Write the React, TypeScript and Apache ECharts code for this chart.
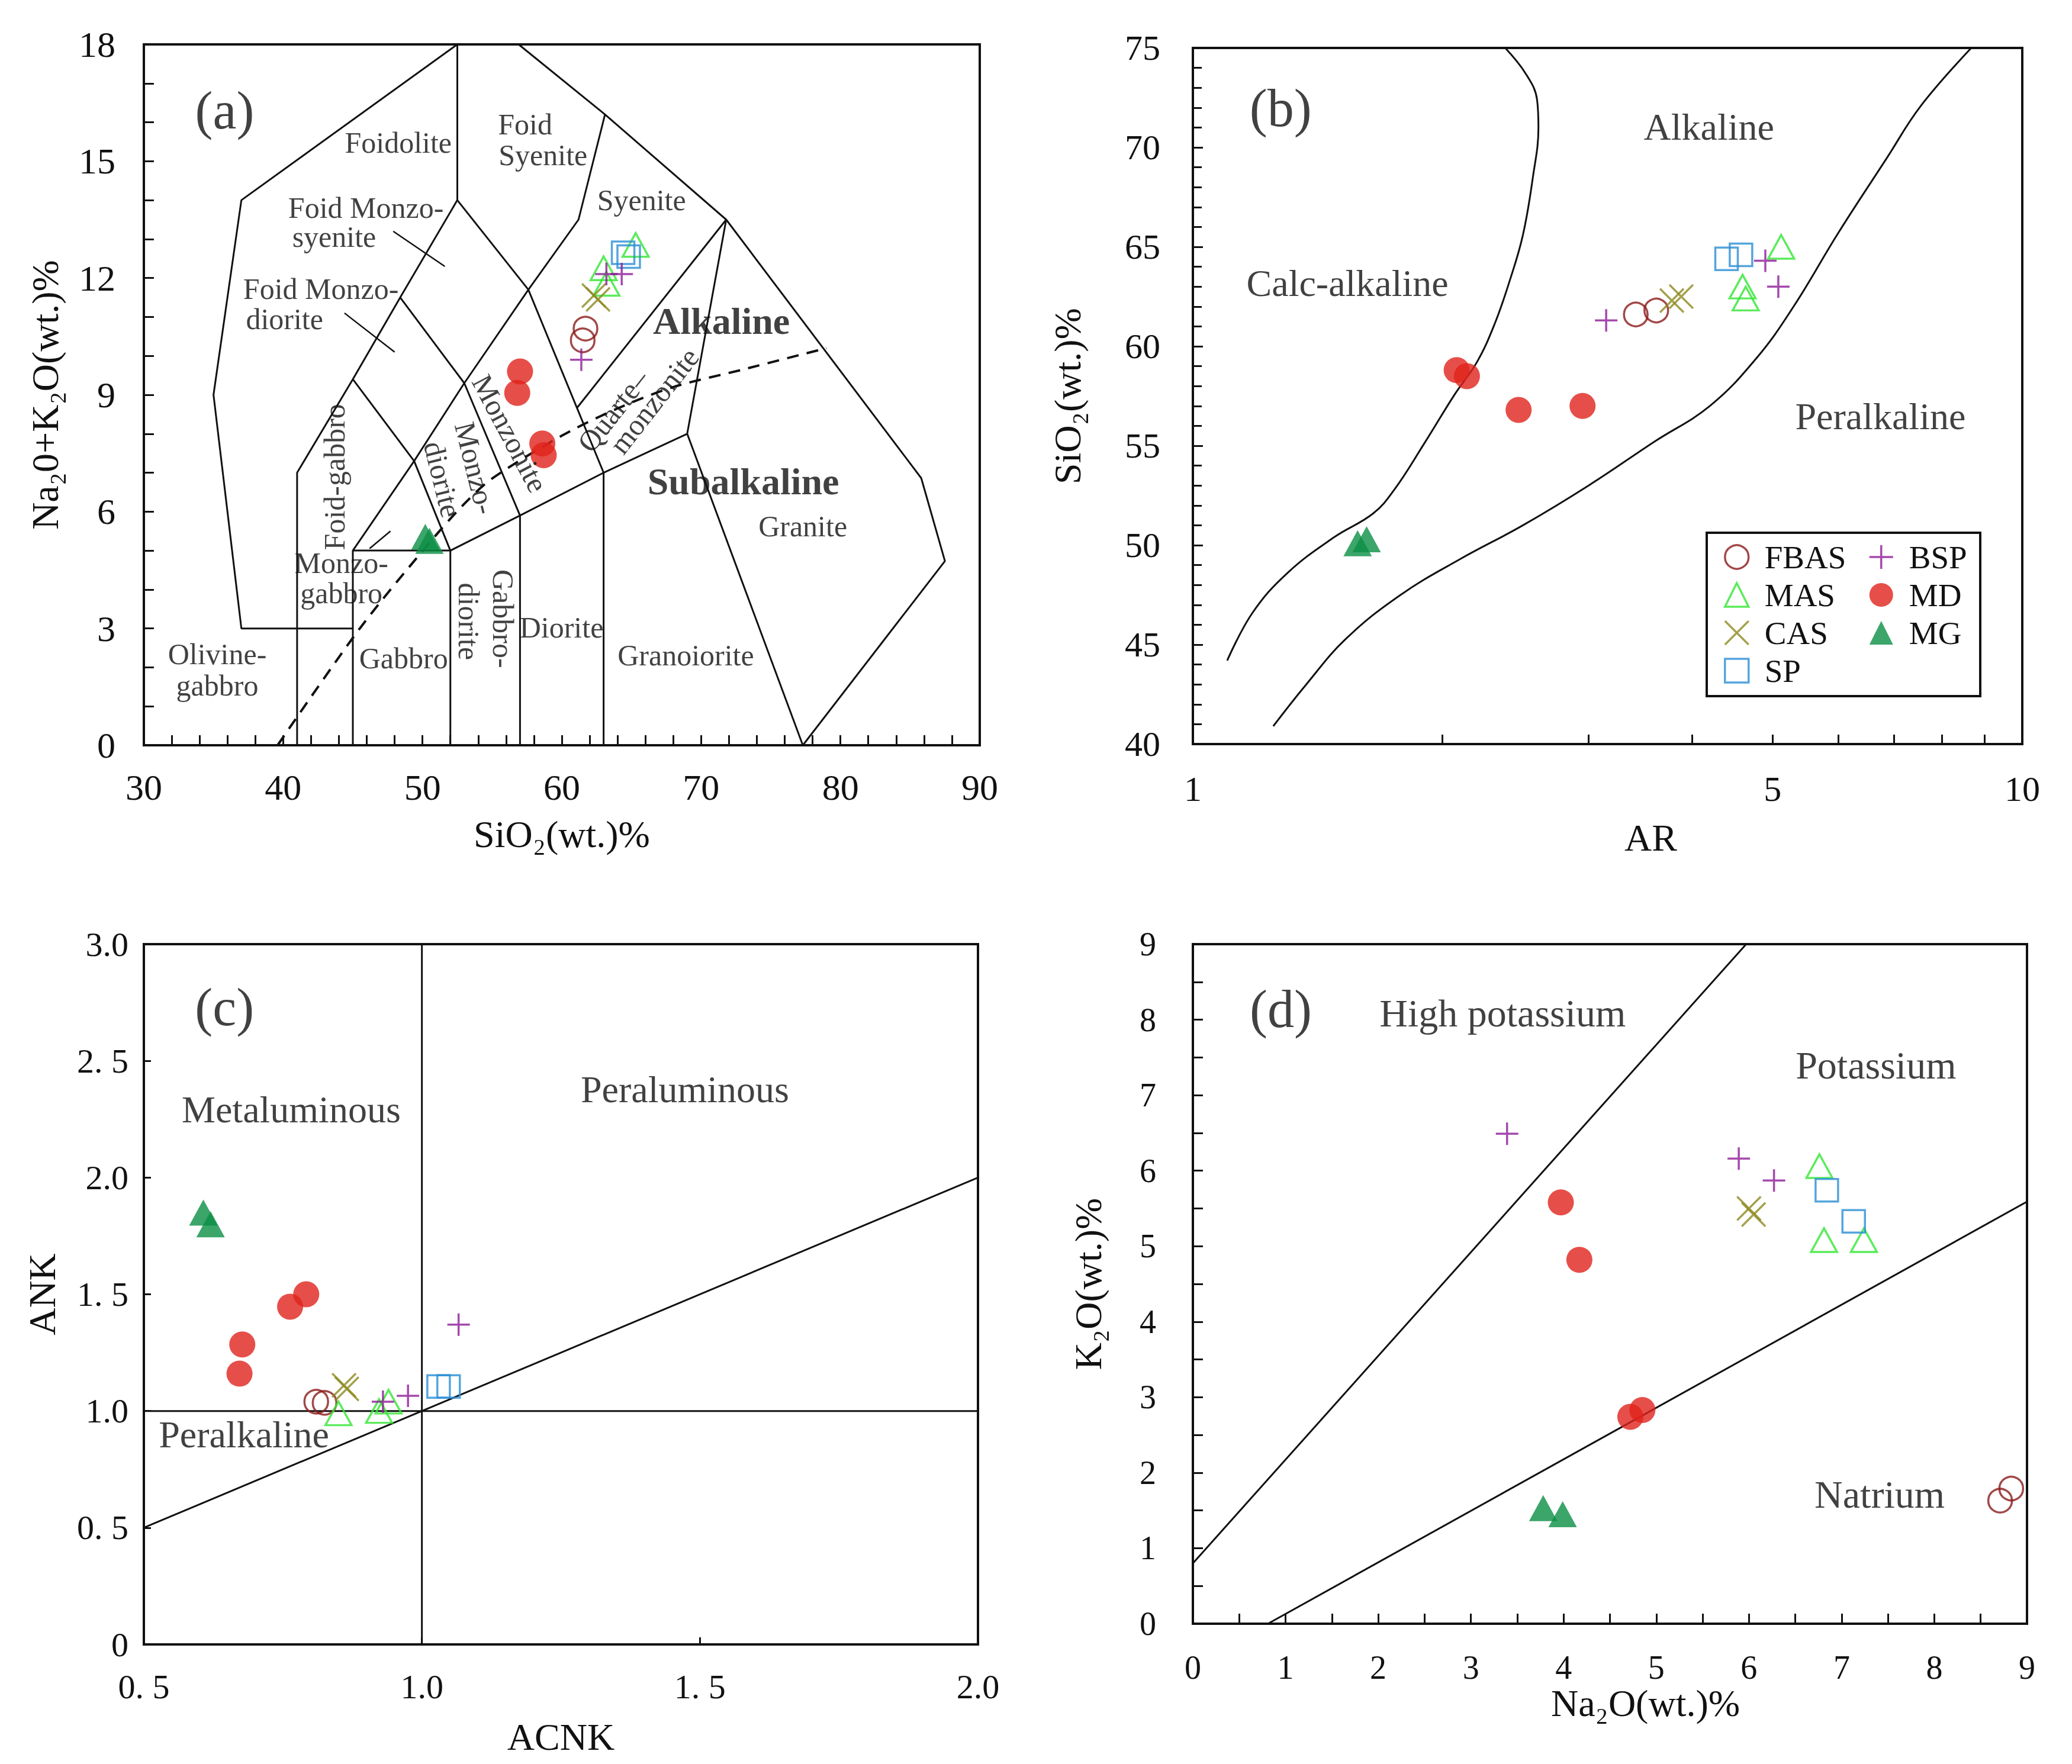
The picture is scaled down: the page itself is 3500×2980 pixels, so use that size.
import React, { useEffect, useRef } from 'react';
import * as echarts from 'echarts';

const FONT = '"Liberation Serif", "Times New Roman", "DejaVu Serif", serif';
const INK = '#111111';

// ---------- sample groups ----------
const groupNames = ['FBAS', 'MAS', 'CAS', 'SP', 'BSP', 'MD', 'MG'];

// ---------- (a) TAS: SiO2 vs Na2O+K2O ----------
const tasFBAS = [[61.7, 10.7], [61.5, 10.4]];
const tasMAS = [[65.3, 12.85], [63.0, 12.25], [63.2, 11.85]];
const tasCAS = [[62.3, 11.55], [62.6, 11.45]];
const tasSP = [[64.4, 12.65], [64.8, 12.55]];
const tasBSP = [[61.4, 9.9], [63.2, 12.1], [64.3, 12.1]];
const tasMD = [[57.0, 9.6], [56.8, 9.05], [58.6, 7.75], [58.7, 7.45]];
const tasMG = [[50.2, 5.35], [50.5, 5.25]];

// ---------- (b) AR vs SiO2 ----------
const arFBAS = [[3.42, 61.6], [3.62, 61.8]];
const arMAS = [[5.12, 65.0], [4.6, 63.0], [4.64, 62.4]];
const arCAS = [[3.78, 62.3], [3.88, 62.5]];
const arSP = [[4.4, 64.4], [4.58, 64.6]];
const arBSP = [[3.15, 61.3], [4.9, 64.3], [5.08, 63.0]];
const arMD = [[2.08, 58.8], [2.14, 58.5], [2.47, 56.8], [2.95, 57.0]];
const arMG = [[1.58, 50.1], [1.62, 50.3]];

// ---------- (c) ACNK vs ANK ----------
const acFBAS = [[0.81, 1.04], [0.825, 1.035]];
const acMAS = [[0.85, 0.99], [0.923, 1.0], [0.94, 1.04]];
const acCAS = [[0.86, 1.11], [0.865, 1.095]];
const acSP = [[1.03, 1.105], [1.048, 1.105]];
const acBSP = [[0.93, 1.04], [0.975, 1.065], [1.066, 1.37]];
const acMD = [[0.763, 1.447], [0.792, 1.5], [0.677, 1.285], [0.672, 1.16]];
const acMG = [[0.607, 1.85], [0.62, 1.8]];

// ---------- (d) Na2O vs K2O ----------
const nkFBAS = [[8.71, 1.63], [8.83, 1.79]];
const nkMAS = [[6.76, 6.06], [6.81, 5.08], [7.24, 5.08]];
const nkCAS = [[6.0, 5.5], [6.05, 5.42]];
const nkSP = [[6.84, 5.74], [7.13, 5.33]];
const nkBSP = [[3.39, 6.49], [5.89, 6.16], [6.27, 5.87]];
const nkMD = [[3.97, 5.58], [4.17, 4.82], [4.72, 2.74], [4.85, 2.83]];
const nkMG = [[3.78, 1.53], [3.99, 1.45]];

// ---------- boundary lines ----------
const tasLines = [
  [[45, 3], [37, 3], [35, 9], [37, 14], [52.5, 18]],
  [[52.5, 18], [52.5, 14]],
  [[41, 0], [41, 7], [45, 9.4], [48.4, 11.5], [52.5, 14], [57.6, 11.7], [63, 7]],
  [[45, 0], [45, 5], [52, 5], [52, 0]],
  [[45, 5], [49.4, 7.3], [53, 9.3], [57.6, 11.7], [61.2, 13.5], [63.1, 16.2]],
  [[56.9, 18], [63.1, 16.2], [71.8, 13.5], [85.8, 6.86], [87.5, 4.73], [77.3, 0]],
  [[45, 9.4], [49.4, 7.3], [52, 5], [57, 5.9], [63, 7], [69, 8], [71.8, 13.5]],
  [[48.4, 11.5], [53, 9.3], [57, 5.9], [57, 0]],
  [[63, 0], [63, 7]],
  [[61.1, 8.67], [71.8, 13.5]],
  [[69, 8], [77.3, 0]],
];
const tasLeaders = [
  [[47.9, 13.2], [51.6, 12.3]],
  [[44.4, 11.1], [48.0, 10.1]],
  [[46.2, 5.05], [47.7, 5.5]],
];
const tasDivide = [[39.6, 0], [45.5, 3.0], [50.5, 5.2], [53, 6.2], [55, 6.85], [60, 7.95], [64, 8.65], [68, 9.2], [73, 9.65], [79, 10.2]];

const arLeft = [[1.1, 44.2], [1.18, 46.6], [1.3, 48.6], [1.48, 50.4], [1.65, 51.6], [1.75, 52.8], [1.9, 55.1], [2.07, 57.6], [2.2, 59.2], [2.31, 61.1], [2.41, 63.3], [2.5, 65.6], [2.57, 68.5], [2.61, 71.0], [2.6, 72.4], [2.52, 73.7], [2.38, 75]];
const arRight = [[1.25, 40.9], [1.37, 43.0], [1.53, 45.3], [1.78, 47.5], [2.1, 49.3], [2.5, 51.0], [3.0, 53.0], [3.6, 55.2], [4.2, 57.0], [4.78, 59.4], [5.3, 62.0], [6.0, 65.7], [6.85, 69.4], [7.55, 72.1], [8.68, 75]];

const acLines = [
  [[1, 0], [1, 3]],
  [[0.5, 1], [2, 1]],
  [[0.5, 0.5], [2, 2]],
];
const nkLines = [
  [[0, 0.8], [5.97, 9]],
  [[0.81, 0], [9, 5.59]],
];

// ---------- tick labels ----------
const arTickValues = [1, 2, 3, 4, 5, 6, 7, 8, 9, 10];
const arLabelValues = [1, 5, 10];
const acTickText: Record<string, string> = { '0': '0', '0.5': '0. 5', '1': '1.0', '1.5': '1. 5', '2': '2.0', '2.5': '2. 5', '3': '3.0' };

// ---------- region labels: [text, x, y, rotate] ----------
const labelsA: any[] = [
  ['(a)', 35.8, 16.3, 0],
  ['Foidolite', 48.26, 15.47, 0],
  ['Foid', 57.37, 15.95, 0],
  ['Syenite', 58.65, 15.16, 0],
  ['Syenite', 65.72, 14.0, 0],
  ['Foid Monzo-', 45.94, 13.81, 0],
  ['syenite', 43.66, 13.06, 0],
  ['Foid Monzo-', 42.71, 11.72, 0],
  ['diorite', 40.1, 10.94, 0],
  ['Alkaline', 71.46, 10.9, 0],
  ['Subalkaline', 73.03, 6.78, 0],
  ['Granite', 77.3, 5.63, 0],
  ['Diorite', 59.98, 3.03, 0],
  ['Granoiorite', 68.9, 2.31, 0],
  ['Gabbro', 48.64, 2.24, 0],
  ['Olivine-', 35.27, 2.34, 0],
  ['gabbro', 35.27, 1.54, 0],
  ['Monzo-', 44.18, 4.69, 0],
  ['gabbro', 44.18, 3.9, 0],
  ['Gabbro-', 55.8, 3.25, -90],
  ['diorite', 53.34, 3.18, -90],
  ['Foid-gabbro', 43.7, 6.89, 90],
  ['Monzo-', 53.8, 7.12, -76],
  ['diorite', 51.44, 6.83, -76],
  ['Monzonite', 56.28, 8.01, -62],
  ['Quarte\u2013', 63.68, 8.59, 52],
  ['monzonite', 66.62, 8.85, 52],
];
const labelsB: any[] = [
  ['(b)', 1.276, 71.97, 0],
  ['Alkaline', 4.19, 71.04, 0],
  ['Calc-alkaline', 1.536, 63.17, 0],
  ['Peralkaline', 6.745, 56.47, 0],
];
const labelsC: any[] = [
  ['(c)', 0.645, 2.73, 0],
  ['Metaluminous', 0.765, 2.29, 0],
  ['Peraluminous', 1.473, 2.378, 0],
  ['Peralkaline', 0.68, 0.899, 0],
];
const labelsD: any[] = [
  ['(d)', 0.948, 8.145, 0],
  ['High potassium', 3.343, 8.09, 0],
  ['Potassium', 7.37, 7.4, 0],
  ['Natrium', 7.41, 1.714, 0],
];

// ---------- styles ----------
const groupStyle: Record<string, any> = {
  FBAS: { symbol: 'circle', color: '#8B1A1A', hollow: true, size: 40 },
  MAS: { symbol: 'triangle', color: '#33E633', hollow: true, size: [44, 40] },
  CAS: { symbol: 'path://M0,0L20,20M20,0L0,20', color: '#8C8A1E', hollow: true, size: 40 },
  SP: { symbol: 'rect', color: '#2A8FD4', hollow: true, size: 38 },
  BSP: { symbol: 'path://M10,0L10,20M0,10L20,10', color: '#8E1C98', hollow: true, size: 38 },
  MD: { symbol: 'circle', color: '#E0231C', hollow: false, size: 44 },
  MG: { symbol: 'triangle', color: '#0B8F45', hollow: false, size: [48, 44] },
};

const panelData = [
  { xi: 0, yi: 0, d: { FBAS: tasFBAS, MAS: tasMAS, CAS: tasCAS, SP: tasSP, BSP: tasBSP, MD: tasMD, MG: tasMG } },
  { xi: 1, yi: 1, d: { FBAS: arFBAS, MAS: arMAS, CAS: arCAS, SP: arSP, BSP: arBSP, MD: arMD, MG: arMG } },
  { xi: 3, yi: 2, d: { FBAS: acFBAS, MAS: acMAS, CAS: acCAS, SP: acSP, BSP: acBSP, MD: acMD, MG: acMG } },
  { xi: 4, yi: 3, d: { FBAS: nkFBAS, MAS: nkMAS, CAS: nkCAS, SP: nkSP, BSP: nkBSP, MD: nkMD, MG: nkMG } },
];

function lineSeries(data: number[][], xi: number, yi: number, width = 3, dashed = false, smooth: any = false) {
  return {
    type: 'line', xAxisIndex: xi, yAxisIndex: yi, data, symbol: 'none', showSymbol: false,
    silent: true, z: 1, smooth, clip: true,
    lineStyle: { color: INK, width, type: dashed ? [20, 14] : 'solid' },
  };
}

function labelSeries(items: any[], xi: number, yi: number, size: number, bigSet: string[] = [], boldSet: string[] = []) {
  return {
    type: 'scatter', xAxisIndex: xi, yAxisIndex: yi, silent: true, z: 6,
    symbolSize: 1, itemStyle: { color: 'rgba(0,0,0,0)' },
    label: { show: true, position: 'inside', color: INK, fontFamily: FONT, fontSize: size },
    data: items.map(([t, x, y, rot]) => ({
      value: [x, y],
      label: {
        formatter: t, rotate: rot || 0,
        fontSize: bigSet.includes(t) ? 90 : boldSet.includes(t) ? 64 : size,
        fontWeight: boldSet.includes(t) ? 'bold' : 'normal',
      },
    })),
  };
}

function valueAxis(grid: number, min: number, max: number, interval: number, name: string, nameGap: number, labelSize: number, margin: number, extra: any = {}) {
  return {
    type: 'value', gridIndex: grid, min, max, interval, name, nameGap,
    nameLocation: 'middle',
    nameTextStyle: { color: INK, fontFamily: FONT, fontSize: 64 },
    axisLine: { show: true, onZero: false, lineStyle: { color: INK, width: 4 } },
    axisTick: { show: true, inside: true, length: 17, lineStyle: { color: INK, width: 3 } },
    axisLabel: { color: INK, fontFamily: FONT, fontSize: labelSize, margin },
    splitLine: { show: false },
    ...extra,
  };
}

function buildOption() {
  const series: any[] = [];
  // boundaries
  tasLines.forEach((l) => series.push(lineSeries(l, 0, 0, 3)));
  tasLeaders.forEach((l) => series.push(lineSeries(l, 0, 0, 2.5)));
  series.push(lineSeries(tasDivide, 0, 0, 4, true, 0.3));
  series.push(lineSeries(arLeft, 1, 1, 3, false, 0.4));
  series.push(lineSeries(arRight, 1, 1, 3, false, 0.4));
  acLines.forEach((l) => series.push(lineSeries(l, 3, 2, 3)));
  nkLines.forEach((l) => series.push(lineSeries(l, 4, 3, 3)));

  // samples
  panelData.forEach((p) => {
    groupNames.forEach((g) => {
      const s = groupStyle[g];
      series.push({
        type: 'scatter', name: g, xAxisIndex: p.xi, yAxisIndex: p.yi, z: 3,
        data: (p.d as any)[g], symbol: s.symbol, symbolSize: s.size,
        itemStyle: s.hollow
          ? { color: 'rgba(0,0,0,0)', borderColor: s.color, borderWidth: 3.5 }
          : { color: s.color },
      });
    });
  });

  // labels
  series.push(labelSeries(labelsA, 0, 0, 50, ['(a)'], ['Alkaline', 'Subalkaline']));
  series.push(labelSeries(labelsB, 1, 1, 64, ['(b)']));
  series.push(labelSeries(labelsC, 3, 2, 64, ['(c)']));
  series.push(labelSeries(labelsD, 4, 3, 66, ['(d)']));

  const gridCommon = { show: true, borderColor: INK, borderWidth: 4, backgroundColor: 'transparent', containLabel: false, outerBoundsMode: 'none' };

  const legendCommon = {
    orient: 'vertical', top: 913, itemWidth: 40, itemHeight: 40, itemGap: 8, padding: 0,
    selectedMode: false,
    itemStyle: { borderWidth: 3.5 },
    textStyle: { fontSize: 55, fontFamily: FONT, color: INK, lineHeight: 56, padding: [0, 0, 0, 22] },
  };

  return {
    animation: false,
    backgroundColor: '#ffffff',
    grid: [
      { ...gridCommon, left: 243, top: 75, width: 1412, height: 1184 },
      { ...gridCommon, left: 2015, top: 81, width: 1401, height: 1176 },
      { ...gridCommon, left: 243, top: 1595, width: 1409, height: 1183 },
      { ...gridCommon, left: 2015, top: 1595, width: 1409, height: 1148 },
    ],
    xAxis: [
      valueAxis(0, 30, 90, 10, 'SiO\u2082(wt.)%', 118, 62, 40, {
        minorTick: { show: true, splitNumber: 5, length: 17, lineStyle: { color: INK, width: 3 } },
      }),
      {
        type: 'log', logBase: 10, gridIndex: 1, min: 1, max: 10,
        axisLine: { show: true, onZero: false, lineStyle: { color: INK, width: 4 } },
        axisTick: { show: false }, axisLabel: { show: false }, splitLine: { show: false },
      },
      {
        type: 'value', gridIndex: 1, min: 0, max: 1, position: 'bottom',
        name: 'AR', nameLocation: 'middle', nameGap: 126,
        nameTextStyle: { color: INK, fontFamily: FONT, fontSize: 64, padding: [0, 0, 0, 146] },
        axisLine: { show: false },
        axisTick: { show: true, inside: true, length: 16, lineStyle: { color: INK, width: 3 }, customValues: arTickValues.map((v) => Math.log10(v)) },
        axisLabel: {
          color: INK, fontFamily: FONT, fontSize: 60, margin: 46,
          customValues: arLabelValues.map((v) => Math.log10(v)),
          formatter: (v: number) => String(Math.round(Math.pow(10, v))),
        },
        splitLine: { show: false },
      },
      valueAxis(2, 0.5, 2, 0.5, 'ACNK', 124, 58, 42, {
        axisTick: { show: true, inside: true, length: 12, lineStyle: { color: INK, width: 3 } },
        axisLabel: { color: INK, fontFamily: FONT, fontSize: 58, margin: 42, formatter: (v: number) => acTickText[String(v)] ?? String(v) },
      }),
      valueAxis(3, 0, 9, 1, 'Na\u2082O(wt.)%', 98, 56, 46, {
        nameTextStyle: { color: INK, fontFamily: FONT, fontSize: 64, padding: [0, 0, 0, 120] },
        minorTick: { show: true, splitNumber: 2, length: 17, lineStyle: { color: INK, width: 3 } },
      }),
    ],
    yAxis: [
      valueAxis(0, 0, 18, 3, 'Na\u20820+K\u2082O(wt.)%', 135, 62, 48, {
        minorTick: { show: true, splitNumber: 3, length: 17, lineStyle: { color: INK, width: 3 } },
      }),
      valueAxis(1, 40, 75, 5, 'SiO\u2082(wt.)%', 180, 60, 55, {
        minorTick: { show: true, splitNumber: 5, length: 15, lineStyle: { color: INK, width: 3 } },
      }),
      valueAxis(2, 0, 3, 0.5, 'ANK', 140, 58, 26, {
        axisTick: { show: true, inside: true, length: 12, lineStyle: { color: INK, width: 3 } },
        axisLabel: { color: INK, fontFamily: FONT, fontSize: 58, margin: 26, formatter: (v: number) => acTickText[String(v)] ?? String(v) },
      }),
      valueAxis(3, 0, 9, 1, 'K\u2082O(wt.)%', 145, 56, 62, {
        minorTick: { show: true, splitNumber: 2, length: 17, lineStyle: { color: INK, width: 3 } },
      }),
    ],
    legend: [
      { ...legendCommon, left: 2912, data: ['FBAS', 'MAS', 'CAS', 'SP'] },
      { ...legendCommon, left: 3156, data: ['BSP', 'MD', 'MG'] },
    ],
    graphic: [
      { type: 'rect', z: 10, shape: { x: 2883, y: 900, width: 462, height: 276 }, style: { fill: 'none', stroke: INK, lineWidth: 4 } },
    ],
    series,
  };
}

export default function App() {
  const ref = useRef<HTMLDivElement>(null);
  useEffect(() => {
    document.body.style.margin = '0';
    if (!ref.current) return;
    const chart = echarts.init(ref.current, null, { renderer: 'svg' });
    chart.setOption(buildOption() as any);
    return () => chart.dispose();
  }, []);
  return <div ref={ref} style={{ width: 3500, height: 2980 }} />;
}
